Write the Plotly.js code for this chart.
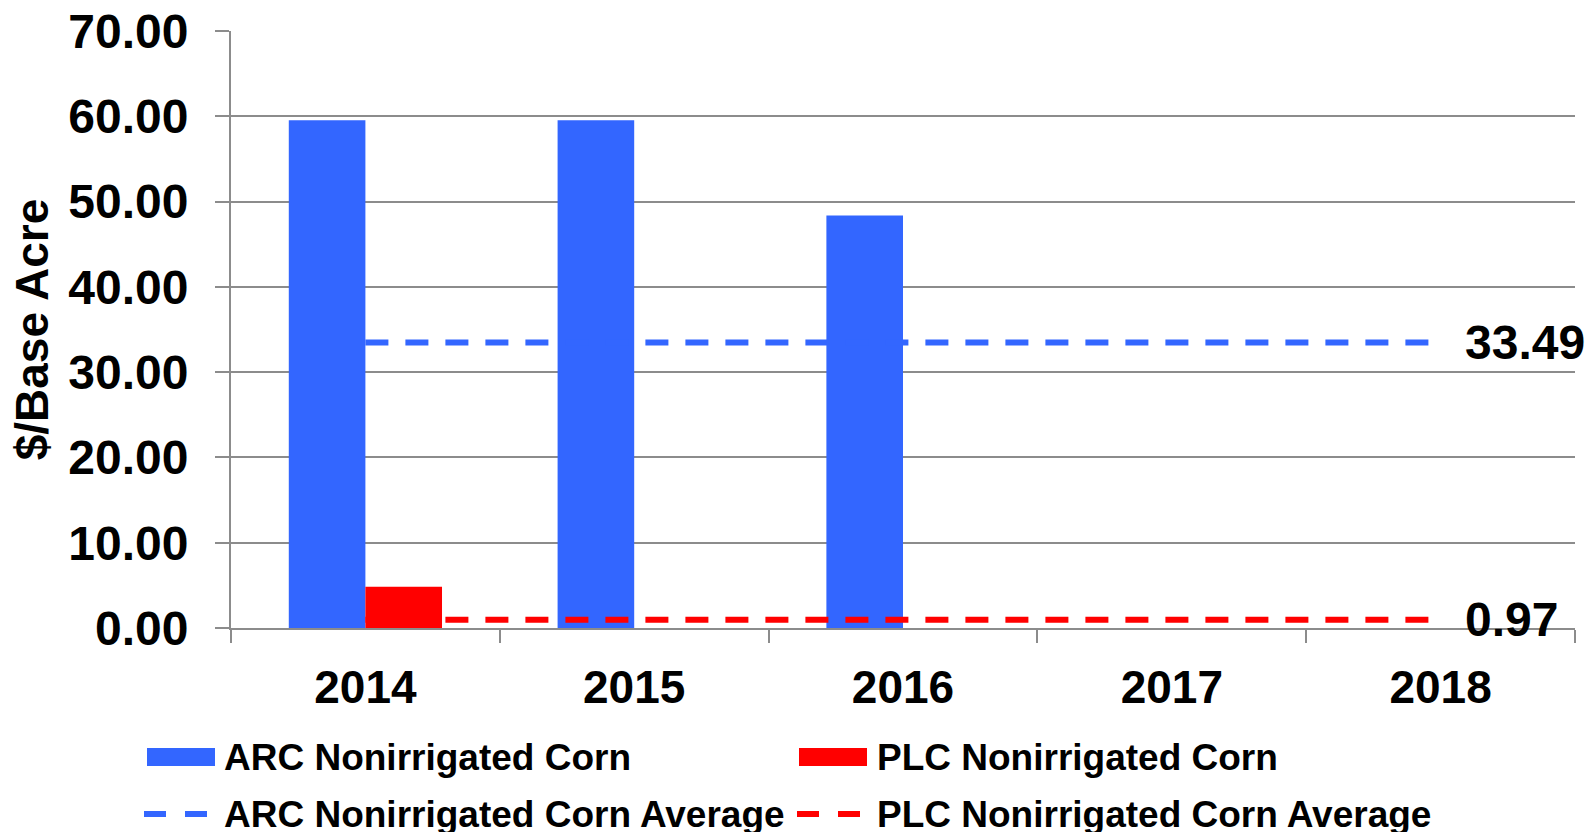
<!DOCTYPE html>
<html>
<head>
<meta charset="utf-8">
<script src="https://cdn.plot.ly/plotly-3.0.1.min.js"></script>
<style>
html,body{margin:0;padding:0;background:#fff;}
#chart{width:1596px;height:832px;}
</style>
</head>
<body>
<div id="chart"></div>
<script>
// ---- data ----
var years = ['2014', '2015', '2016', '2017', '2018'];
var arcCorn = [59.53, 59.53, 48.38, 0, 0];
var plcCorn = [4.85, 0, 0, 0, 0];
var arcAverage = [33.49, 33.49, 33.49, 33.49, 33.49];
var plcAverage = [0.97, 0.97, 0.97, 0.97, 0.97];
var seriesNames = ['ARC Nonirrigated Corn', 'PLC Nonirrigated Corn',
                   'ARC Nonirrigated Corn Average', 'PLC Nonirrigated Corn Average'];
var yTickValues = [0, 10, 20, 30, 40, 50, 60, 70];

// ---- style ----
var BLUE = '#3366ff', RED = '#ff0000', GRID = '#8c8c8c';
var W = 1596, H = 832;
var M = {l: 231, r: 21, t: 31, b: 204};
var PW = W - M.l - M.r, PH = H - M.t - M.b;
var FONT = 'Liberation Sans, Arial, sans-serif';
function px(x){ return (x - M.l) / PW; }
function py(y){ return (H - M.b - y) / PH; }

var traces = [
  {type: 'bar', x: years, y: arcCorn, name: seriesNames[0], marker: {color: BLUE}},
  {type: 'bar', x: years, y: plcCorn, name: seriesNames[1], marker: {color: RED}},
  {type: 'scatter', mode: 'lines', x: years, y: arcAverage, name: seriesNames[2],
   line: {color: BLUE, width: 6, dash: '23px,17px'}},
  {type: 'scatter', mode: 'lines', x: years, y: plcAverage, name: seriesNames[3],
   line: {color: RED, width: 6, dash: '23px,17px'}}
];

var last = years.length - 1;
var annotations = [
  {x: last, y: arcAverage[last], xref: 'x', yref: 'y', text: arcAverage[last].toFixed(2),
   showarrow: false, xanchor: 'left', yanchor: 'middle', xshift: 22,
   font: {family: FONT, size: 48, color: '#000', weight: 'bold'}},
  {x: last, y: plcAverage[last], xref: 'x', yref: 'y', text: plcAverage[last].toFixed(2),
   showarrow: false, xanchor: 'left', yanchor: 'middle', xshift: 22,
   font: {family: FONT, size: 48, color: '#000', weight: 'bold'}}
];

// custom legend (large swatches like the reference)
var legendItems = [
  {name: seriesNames[0], kind: 'bar', color: BLUE, sx: 147, tx: 222, y: 757},
  {name: seriesNames[1], kind: 'bar', color: RED, sx: 799, tx: 875, y: 757},
  {name: seriesNames[2], kind: 'line', color: BLUE, sx: 144, tx: 222, y: 814},
  {name: seriesNames[3], kind: 'line', color: RED, sx: 797, tx: 875, y: 814}
];
var shapes = [];
legendItems.forEach(function(it){
  if (it.kind === 'bar') {
    shapes.push({type: 'rect', xref: 'paper', yref: 'paper',
      x0: px(it.sx), x1: px(it.sx + 68), y0: py(it.y - 9), y1: py(it.y + 9),
      fillcolor: it.color, line: {width: 0}});
  } else {
    shapes.push({type: 'line', xref: 'paper', yref: 'paper',
      x0: px(it.sx), x1: px(it.sx + 63), y0: py(it.y), y1: py(it.y),
      line: {color: it.color, width: 6, dash: '22px,19px'}});
  }
  annotations.push({xref: 'paper', yref: 'paper', x: px(it.tx), y: py(it.y),
    text: it.name, showarrow: false, xanchor: 'left', yanchor: 'middle',
    font: {family: FONT, size: 37, color: '#000', weight: 'bold'}});
});

var layout = {
  width: W, height: H,
  margin: M,
  paper_bgcolor: '#fff', plot_bgcolor: '#fff',
  showlegend: false,
  barmode: 'group',
  bargap: 0.43,
  bargroupgap: 0,
  font: {family: FONT, color: '#000'},
  xaxis: {
    type: 'category',
    range: [-0.5, 4.5],
    showline: true, linecolor: GRID, linewidth: 2,
    ticks: 'outside', tickson: 'boundaries', ticklen: 13, tickwidth: 2, tickcolor: GRID,
    showgrid: false,
    ticklabelstandoff: 18,
    tickfont: {family: FONT, size: 46, color: '#000', weight: 'bold'}
  },
  yaxis: {
    range: [0, 70],
    tickvals: yTickValues,
    tickformat: '.2f',
    showline: true, linecolor: GRID, linewidth: 2,
    ticks: 'outside', ticklen: 14, tickwidth: 2, tickcolor: GRID,
    showgrid: true, gridcolor: GRID, gridwidth: 2,
    zeroline: false,
    ticklabelstandoff: 17,
    tickfont: {family: FONT, size: 48, color: '#000', weight: 'bold'},
    title: {text: '$/Base Acre', standoff: 5,
            font: {family: FONT, size: 46, color: '#000', weight: 'bold'}}
  },
  shapes: shapes,
  annotations: annotations
};

Plotly.newPlot('chart', traces, layout, {displayModeBar: false, staticPlot: true});
</script>
</body>
</html>
